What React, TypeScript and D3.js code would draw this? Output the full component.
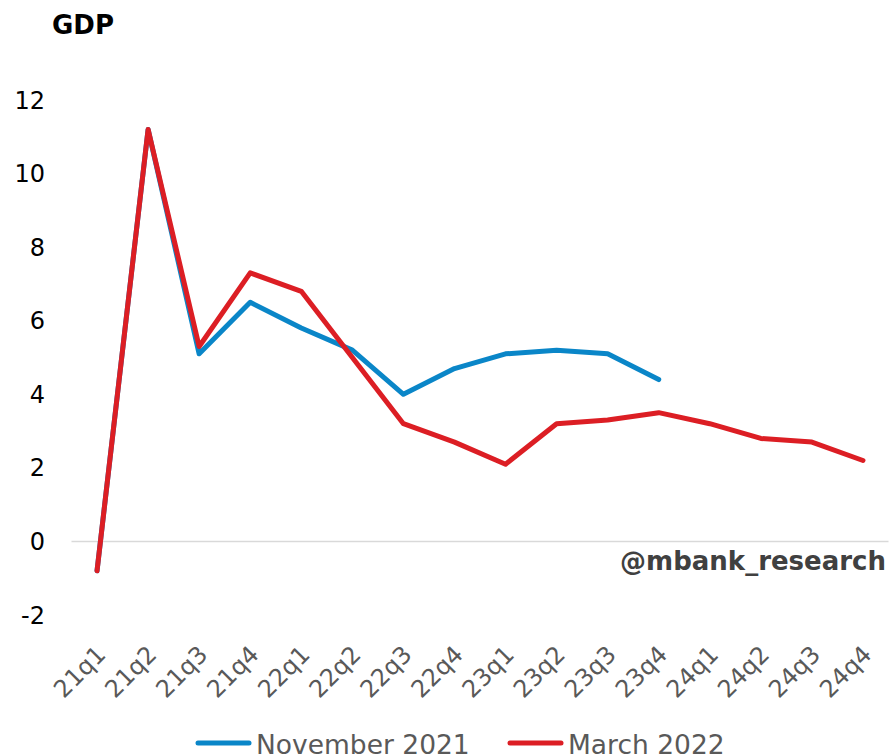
import React from "react";
import * as d3 from "d3";

const categories = ["21q1","21q2","21q3","21q4","22q1","22q2","22q3","22q4","23q1","23q2","23q3","23q4","24q1","24q2","24q3","24q4"];
const november2021: (number | null)[] = [-0.8, 11.2, 5.1, 6.5, 5.8, 5.2, 4.0, 4.7, 5.1, 5.2, 5.1, 4.4, null, null, null, null];
const march2022: (number | null)[] = [-0.8, 11.2, 5.3, 7.3, 6.8, 5.0, 3.2, 2.7, 2.1, 3.2, 3.3, 3.5, 3.2, 2.8, 2.7, 2.2];
const yTicks = [-2, 0, 2, 4, 6, 8, 10, 12];

const W = 892, H = 756;
const FONT = "'DejaVu Sans', Verdana, sans-serif";

export default function App() {
  const x = d3.scaleBand<string>().domain(categories).range([71.5, 888.5]);
  const y = d3.scaleLinear().domain([-2, 12]).range([615, 100]);
  const cx = (c: string) => (x(c) as number) + x.bandwidth() / 2;

  const line = d3.line<{ c: string; v: number | null }>()
    .defined(d => d.v !== null)
    .x(d => cx(d.c))
    .y(d => y(d.v as number));

  const series = [
    { name: "November 2021", color: "#0a86c8", values: november2021 },
    { name: "March 2022", color: "#dc1e24", values: march2022 },
  ];

  return (
    <svg width={W} height={H} style={{ position: "absolute", left: 0, top: 0, background: "#fff" }} fontFamily={FONT}>
      <text x={52} y={34} fontSize={26} fontWeight="bold" fill="#000">GDP</text>
      {yTicks.map(t => (
        <text key={t} x={45} y={y(t)} dy="0.36em" textAnchor="end" fontSize={24} fill="#000">{t}</text>
      ))}
      <line x1={71.5} x2={888.5} y1={y(0)} y2={y(0)} stroke="#d9d9d9" strokeWidth={1.5} />
      {categories.map(c => (
        <text key={c} transform={`translate(${cx(c) + 10},${656}) rotate(-45)`} textAnchor="end" fontSize={24} fill="#595959">{c}</text>
      ))}
      <text x={886} y={570} textAnchor="end" fontSize={26} fontWeight="bold" fill="#404040">@mbank_research</text>
      {series.map(s => (
        <path key={s.name} d={line(categories.map((c, i) => ({ c, v: s.values[i] }))) || ""} fill="none" stroke={s.color} strokeWidth={5} strokeLinejoin="round" strokeLinecap="round" />
      ))}
      <g>
        <line x1={198} x2={249} y1={743} y2={743} stroke="#0a86c8" strokeWidth={5} strokeLinecap="round" />
        <text x={256} y={754} fontSize={26.5} fill="#595959">November 2021</text>
        <line x1={510} x2={561} y1={743} y2={743} stroke="#dc1e24" strokeWidth={5} strokeLinecap="round" />
        <text x={568} y={754} fontSize={26.5} fill="#595959">March 2022</text>
      </g>
    </svg>
  );
}
